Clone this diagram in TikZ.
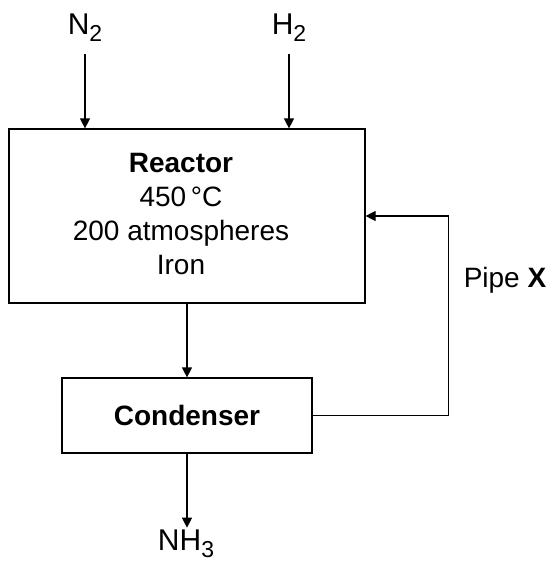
\documentclass[tikz,border=0pt]{standalone}
\usepackage{fontspec}
\setmainfont{Liberation Sans}
\usetikzlibrary{arrows.meta,positioning}
\newcommand{\lowidx}[1]{\raisebox{-3.5pt}{\fontsize{11.5}{12}\selectfont#1}}
\tikzset{
  unit/.style={draw, line width=0.6pt, inner sep=0pt},
  flow/.style={line width=0.6pt, -{Triangle[length=5pt,width=5pt]}},
  chem/.style={inner sep=1pt, font=\fontsize{15}{17}\selectfont}
}
\begin{document}
\begin{tikzpicture}[x=0.5pt,y=-0.5pt,font=\fontsize{14}{17}\selectfont]
  \useasboundingbox (0,0) rectangle (552,563);
  \node[unit, minimum width=178pt, minimum height=87pt] (reactor) at (187,216) {};
  \node[align=center] (conds) at (181,214) {\textbf{Reactor}\\450\,°C\\200 atmospheres\\Iron};
  \node[unit, minimum width=125pt, minimum height=37.5pt] (condenser) at (187,415.5) {\textbf{Condenser}};
  \node[chem] (nin) at (85,28) {N\lowidx{2}};
  \node[chem] (hin) at (289,28) {H\lowidx{2}};
  \node[chem] (nhout) at (186,544) {NH\lowidx{3}};
  \node (pipex) at (505,280) {Pipe \textbf{X}};
  \draw[flow] ([yshift=-5pt]nin.south) -- (nin |- reactor.north);
  \draw[flow] ([yshift=-5pt]hin.south) -- (hin |- reactor.north);
  \draw[flow] (reactor.south) -- (condenser.north);
  \draw[flow] (condenser.south) -- (condenser.south |- nhout.north);
  \draw[flow] (condenser.east) -- ++(68pt,0) |- (reactor.east);
\end{tikzpicture}
\end{document}
